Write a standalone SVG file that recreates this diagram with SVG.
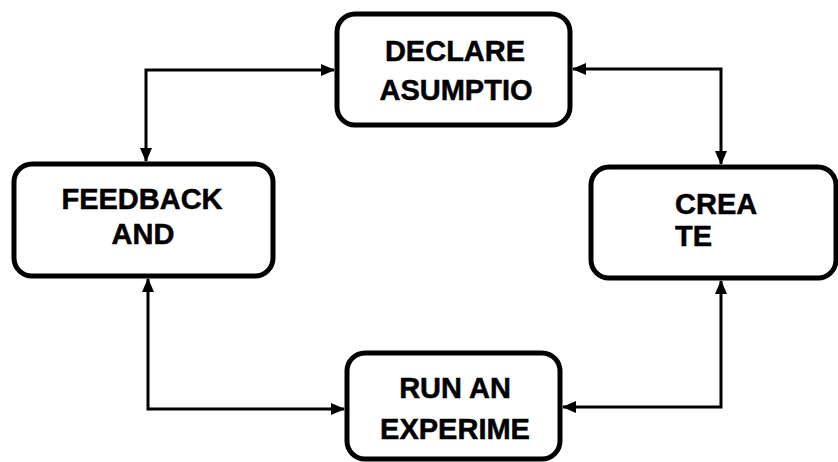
<svg xmlns="http://www.w3.org/2000/svg" width="838" height="462" viewBox="0 0 838 462">
<defs>
<marker id="ah" markerUnits="userSpaceOnUse" markerWidth="14" markerHeight="14" viewBox="0 0 14 14" refX="13" refY="7" orient="auto-start-reverse">
<path d="M0,1 L14,7 L0,13 Z" fill="#000"/>
</marker>
<style>
.box{fill:#fff;stroke:#000;stroke-width:5}
.lbl{font-family:"Liberation Sans",Arial,sans-serif;font-weight:bold;font-size:29px;fill:#000;stroke:#000;stroke-width:0.5}
.c{text-anchor:middle}
.conn{fill:none;stroke:#000;stroke-width:3;marker-start:url(#ah);marker-end:url(#ah)}
</style>
</defs>
<g id="connectors">
<path class="conn" d="M334,70 H146 V161"/>
<path class="conn" d="M573,69 H721 V164"/>
<path class="conn" d="M148,279 V409 H344"/>
<path class="conn" d="M721,281 V407 H563"/>
</g>
<g id="declare">
<rect class="box" x="337" y="14" width="233" height="111" rx="18"/>
<text class="lbl c" x="455" y="61">DECLARE</text>
<text class="lbl c" x="456" y="100">ASUMPTIO</text>
</g>
<g id="feedback">
<rect class="box" x="14" y="164" width="259" height="112" rx="18"/>
<text class="lbl c" x="142" y="209">FEEDBACK</text>
<text class="lbl c" x="143" y="244">AND</text>
</g>
<g id="create">
<rect class="box" x="591" y="167" width="245" height="111" rx="18"/>
<text class="lbl" x="675" y="214">CREA</text>
<text class="lbl" x="675" y="246">TE</text>
</g>
<g id="run">
<rect class="box" x="347" y="353" width="213" height="106" rx="18"/>
<text class="lbl c" x="455" y="398">RUN AN</text>
<text class="lbl c" x="455" y="439">EXPERIME</text>
</g>
</svg>
